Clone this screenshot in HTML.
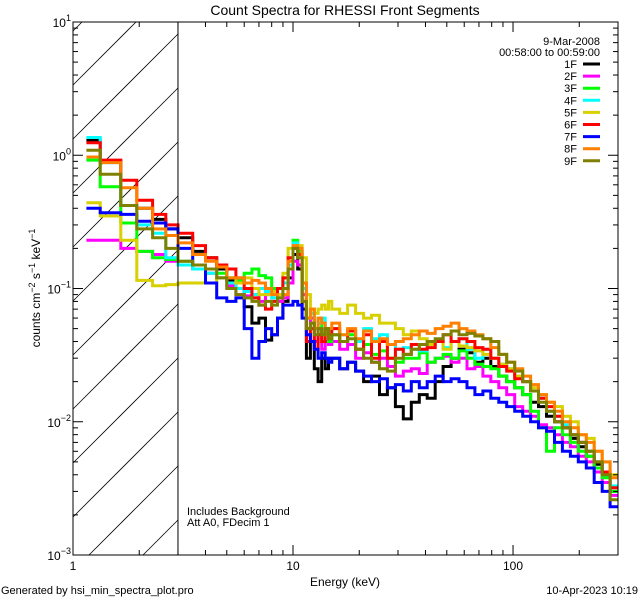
<!DOCTYPE html>
<html><head><meta charset="utf-8">
<style>
html,body{margin:0;padding:0;background:#fff;width:640px;height:600px;overflow:hidden;}
svg{display:block;font-family:"Liberation Sans",sans-serif;overflow:hidden;}
</style></head>
<body>
<svg id="chart" width="640" height="600" viewBox="0 0 640 600" xmlns="http://www.w3.org/2000/svg">
<defs><clipPath id="pclip"><rect x="73" y="22" width="545" height="533"/></clipPath></defs>
<text x="345" y="15" font-size="14" text-anchor="middle">Count Spectra for RHESSI Front Segments</text>
<g id="hatch"></g>
<g id="series" clip-path="url(#pclip)"></g>
<g id="axes"></g>
<text transform="translate(40,288) rotate(-90)" font-size="12" text-anchor="middle">counts cm<tspan dy="-5" font-size="9">−2</tspan><tspan dy="5"> s</tspan><tspan dy="-5" font-size="9">−1</tspan><tspan dy="5"> keV</tspan><tspan dy="-5" font-size="9">−1</tspan></text>
<text x="345" y="586" font-size="12" text-anchor="middle">Energy (keV)</text>
<text x="1" y="594" font-size="11">Generated by hsi_min_spectra_plot.pro</text>
<text x="638" y="594" font-size="11" text-anchor="end">10-Apr-2023 10:19</text>
<text x="187" y="515" font-size="11">Includes Background</text>
<text x="187" y="526" font-size="11">Att A0, FDecim 1</text>
<text x="600" y="45" font-size="11" text-anchor="end">9-Mar-2008</text>
<text x="600" y="56" font-size="11" text-anchor="end">00:58:00 to 00:59:00</text>
<g id="legend"></g>
</svg>
<script>
const edges=[1.15,1.33,1.65,1.95,2.3,2.64,3.0,3.5,4,4.5,5,5.5,6,6.5,7,7.5,8,8.5,9,9.5,10,10.5,11,11.5,12,12.5,13,13.5,14,14.5,15,16.3,17.7,19.26,20.93,22.74,24.72,26.86,29.19,31.73,34.48,37.48,40.73,44.27,48.11,52.28,56.82,61.76,67.12,72.94,79.27,86.15,93.63,101.8,110.6,120.2,130.6,141.9,154.3,167.7,182.2,198.0,215.2,233.9,254.2,276.3,300];
const names=["1F","2F","3F","4F","5F","6F","7F","8F","9F"];
const colors=["#000000","#ff00ff","#00ff00","#00ffff","#d8d000","#ff0000","#0000ff","#ff8000","#808000"];
const s1F=[1.3,0.9,0.42,0.40,0.33,0.28,0.24,0.19,0.17,0.14,0.115,0.10,0.073,0.055,0.06,0.041,0.045,0.06,0.08,0.12,0.18,0.14,0.07,0.03,0.04,0.025,0.02,0.03,0.025,0.03,0.03,0.025,0.028,0.024,0.02,0.022,0.016,0.018,0.013,0.0105,0.014,0.016,0.015,0.02,0.026,0.03,0.035,0.033,0.028,0.03,0.026,0.022,0.02,0.018,0.016,0.014,0.013,0.011,0.01,0.009,0.0075,0.0065,0.0055,0.0048,0.004,0.003];
const s2F=[0.23,0.23,0.2,0.19,0.18,0.16,0.15,0.14,0.13,0.12,0.105,0.09,0.088,0.09,0.08,0.09,0.1,0.08,0.085,0.11,0.16,0.15,0.09,0.05,0.06,0.04,0.05,0.035,0.04,0.038,0.04,0.035,0.038,0.03,0.033,0.028,0.03,0.026,0.022,0.024,0.025,0.023,0.028,0.03,0.031,0.028,0.03,0.025,0.026,0.022,0.02,0.018,0.016,0.013,0.012,0.011,0.0095,0.009,0.008,0.007,0.0065,0.0055,0.005,0.0042,0.0035,0.0028];
const s3F=[0.92,0.58,0.31,0.19,0.17,0.165,0.16,0.15,0.14,0.13,0.12,0.115,0.13,0.14,0.125,0.12,0.1,0.1,0.12,0.15,0.23,0.19,0.1,0.06,0.07,0.05,0.06,0.045,0.05,0.04,0.045,0.04,0.045,0.035,0.038,0.032,0.034,0.03,0.028,0.03,0.03,0.033,0.028,0.03,0.032,0.03,0.034,0.03,0.027,0.026,0.025,0.022,0.02,0.018,0.016,0.012,0.009,0.006,0.009,0.008,0.007,0.006,0.0055,0.0045,0.0038,0.003];
const s4F=[1.36,0.88,0.42,0.30,0.26,0.17,0.15,0.14,0.13,0.12,0.11,0.1,0.095,0.09,0.1,0.095,0.085,0.09,0.11,0.15,0.22,0.2,0.1,0.06,0.065,0.05,0.055,0.06,0.05,0.048,0.05,0.045,0.048,0.04,0.05,0.042,0.045,0.038,0.035,0.036,0.035,0.034,0.038,0.04,0.036,0.04,0.042,0.035,0.03,0.035,0.03,0.027,0.025,0.022,0.02,0.017,0.015,0.012,0.011,0.0095,0.008,0.007,0.006,0.005,0.004,0.0033];
const s5F=[0.44,0.35,0.23,0.115,0.105,0.107,0.11,0.11,0.11,0.12,0.12,0.11,0.12,0.1,0.09,0.09,0.095,0.09,0.13,0.2,0.2,0.21,0.17,0.09,0.07,0.065,0.07,0.075,0.07,0.08,0.07,0.065,0.075,0.065,0.06,0.063,0.055,0.055,0.05,0.045,0.048,0.042,0.038,0.04,0.035,0.04,0.037,0.036,0.034,0.032,0.03,0.027,0.025,0.022,0.02,0.018,0.016,0.014,0.013,0.011,0.01,0.008,0.0075,0.006,0.005,0.004];
const s6F=[1.24,0.92,0.65,0.46,0.36,0.30,0.26,0.21,0.17,0.15,0.14,0.12,0.1,0.085,0.075,0.07,0.08,0.1,0.12,0.17,0.2,0.18,0.08,0.04,0.05,0.035,0.045,0.04,0.05,0.045,0.05,0.04,0.048,0.035,0.045,0.03,0.04,0.03,0.035,0.032,0.038,0.035,0.036,0.04,0.045,0.04,0.042,0.04,0.036,0.035,0.03,0.026,0.024,0.021,0.02,0.017,0.015,0.013,0.011,0.009,0.008,0.007,0.006,0.005,0.0042,0.0032];
const s7F=[0.40,0.37,0.36,0.32,0.31,0.28,0.2,0.15,0.11,0.085,0.08,0.085,0.05,0.03,0.04,0.05,0.045,0.06,0.075,0.075,0.08,0.075,0.06,0.045,0.04,0.035,0.03,0.033,0.03,0.028,0.03,0.025,0.028,0.024,0.022,0.02,0.021,0.018,0.019,0.017,0.02,0.018,0.02,0.022,0.02,0.021,0.02,0.018,0.016,0.017,0.015,0.014,0.013,0.012,0.011,0.01,0.009,0.0085,0.007,0.006,0.0055,0.005,0.0045,0.0035,0.003,0.0023];
const s8F=[0.97,0.88,0.57,0.40,0.28,0.25,0.22,0.18,0.16,0.145,0.12,0.12,0.11,0.115,0.11,0.1,0.09,0.085,0.09,0.16,0.21,0.2,0.11,0.06,0.07,0.05,0.06,0.055,0.045,0.05,0.055,0.045,0.05,0.042,0.048,0.04,0.042,0.038,0.04,0.042,0.045,0.048,0.046,0.05,0.052,0.055,0.05,0.048,0.045,0.042,0.036,0.032,0.028,0.025,0.022,0.019,0.016,0.014,0.012,0.01,0.009,0.008,0.007,0.006,0.005,0.0038];
const s9F=[1.09,0.72,0.42,0.28,0.24,0.20,0.16,0.15,0.14,0.12,0.1,0.09,0.085,0.08,0.075,0.08,0.075,0.085,0.1,0.14,0.2,0.17,0.08,0.05,0.055,0.045,0.05,0.045,0.05,0.042,0.045,0.04,0.042,0.035,0.03,0.028,0.025,0.024,0.03,0.032,0.035,0.038,0.04,0.042,0.045,0.048,0.045,0.046,0.044,0.042,0.04,0.032,0.028,0.024,0.02,0.017,0.014,0.012,0.01,0.009,0.008,0.007,0.006,0.005,0.004,0.0026];
const seriesVals=[s1F,s2F,s3F,s4F,s5F,s6F,s7F,s8F,s9F];
const xTickVals=[1,10,100];
const xTickLabels=["1","10","100"];
const yDecades=[-3,-2,-1,0,1];

const NS="http://www.w3.org/2000/svg";
const L=73,R=618,T=22,B=555,XMIN=1,XMAX=300,YMIN=-3,YMAX=1;
function xs(e){return L+(Math.log10(e)-Math.log10(XMIN))/(Math.log10(XMAX)-Math.log10(XMIN))*(R-L);}
function ys(v){return B-(Math.log10(v)-YMIN)/(YMAX-YMIN)*(B-T);}
function mk(tag,attrs,parent){const el=document.createElementNS(NS,tag);for(const k in attrs)el.setAttribute(k,attrs[k]);parent.appendChild(el);return el;}

// hatch lines clipped manually to the box [L,HX]x[T,B], slope 45deg (y = y0 - (x-L))
const hg=document.getElementById('hatch');
const HX=xs(3);
for(let i=-3;i<12;i++){
  const y0=85+54*i;
  let xa=L, xb=HX;
  // y at x: y0-(x-L); need T<=y<=B
  xa=Math.max(xa, L+(y0-B));
  xb=Math.min(xb, L+(y0-T));
  if(xb<=xa) continue;
  const ln=mk('line',{x1:xa,y1:y0-(xa-L),x2:xb,y2:y0-(xb-L),stroke:'#000','stroke-width':0.8},hg);
  
  
}
const sg=document.getElementById('series');
seriesVals.forEach((vals,si)=>{
  let d='';
  vals.forEach((v,i)=>{
    const x1=xs(edges[i]).toFixed(1),x2=xs(edges[i+1]).toFixed(1),y=ys(v).toFixed(1);
    d+=(i===0?'M':'L')+x1+' '+y+'L'+x2+' '+y;
  });
  const p=mk('path',{d:d,fill:'none',stroke:colors[si],'stroke-width':3,'stroke-linejoin':'miter'},sg);
  
  
});
const ag=document.getElementById('axes');
const frame=mk('rect',{x:L,y:T,width:R-L,height:B-T,fill:'none',stroke:'#000','stroke-width':1},ag);


const vl=mk('line',{x1:HX,y1:T,x2:HX,y2:B,stroke:'#000','stroke-width':1},ag);


for(let dec=1;dec<=100;dec*=10){for(let m=1;m<=9;m++){const e=dec*m;if(e<XMIN||e>XMAX)continue;const x=xs(e);const len=m===1?10:5;
  const t1=mk('line',{x1:x,y1:B,x2:x,y2:B-len,stroke:'#000'},ag);
  
  
  const t2=mk('line',{x1:x,y1:T,x2:x,y2:T+len,stroke:'#000'},ag);
  
  }}
xTickVals.forEach((v,i)=>{const t=mk('text',{x:xs(v),y:B+15,'font-size':12,'text-anchor':'middle'},ag);t.textContent=xTickLabels[i];
  
  });
yDecades.forEach(dc=>{for(let m=1;m<=9;m++){if(dc===YMAX&&m>1)break;const y=ys(m*Math.pow(10,dc));const len=m===1?10:5;
  const t1=mk('line',{x1:L,y1:y,x2:L+len,y2:y,stroke:'#000'},ag);
  
  
  const t2=mk('line',{x1:R,y1:y,x2:R-len,y2:y,stroke:'#000'},ag);
  
  }
  const t=mk('text',{x:L-2,y:ys(Math.pow(10,dc))+5,'font-size':12,'text-anchor':'end'},ag);
  t.innerHTML='10<tspan dy="-6" font-size="9">'+(dc<0?'−'+(-dc):dc)+'</tspan>';
  
  });
const lg=document.getElementById('legend');
names.forEach((n,i)=>{const y=64+12.1*i;
  const t=mk('text',{x:577,y:y+4,'font-size':11,'text-anchor':'end'},lg);t.textContent=n;
  
  
  const l=mk('line',{x1:583,y1:y,x2:600,y2:y,stroke:colors[i],'stroke-width':3},lg);
  
  });
</script>
</body></html>
